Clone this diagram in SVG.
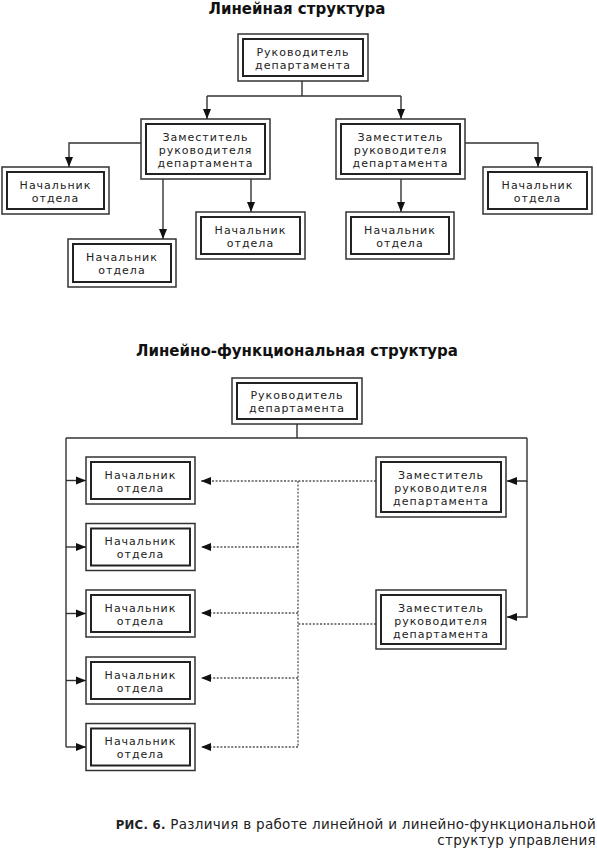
<svg xmlns="http://www.w3.org/2000/svg" width="597" height="850" viewBox="0 0 597 850">
<style>
.o{fill:#fff;stroke:#333;stroke-width:1.5}
.i{fill:#fff;stroke:#222;stroke-width:2}
.t{font-family:"DejaVu Sans","Liberation Sans",sans-serif;font-size:11px;letter-spacing:1px;fill:#222;text-anchor:middle}
.h{font-family:"DejaVu Sans","Liberation Sans",sans-serif;font-size:15px;font-weight:bold;fill:#111;text-anchor:middle}
.c{fill:none;stroke:#333;stroke-width:1.4}
.d{fill:none;stroke:#555;stroke-width:1.3;stroke-dasharray:2 1.6}
.cap{font-family:"DejaVu Sans","Liberation Sans",sans-serif;font-size:13.5px;letter-spacing:0.3px;fill:#222;text-anchor:end}
</style>
<defs>
<marker id="ar" markerUnits="userSpaceOnUse" markerWidth="10" markerHeight="10" viewBox="0 0 10 10" refX="10" refY="5" orient="auto">
<path d="M0,1 L10,5 L0,9 Z" fill="#111"/>
</marker>
</defs>
<rect width="597" height="850" fill="#fff"/>
<text class="h" x="297" y="14">Линейная структура</text>
<text class="h" x="297" y="356">Линейно-функциональная структура</text>

<g id="connectors">
<path class="c" d="M302,81 V96 M207,96 H401"/>
<path class="c" d="M207,96 V119" marker-end="url(#ar)"/>
<path class="c" d="M401,96 V119" marker-end="url(#ar)"/>
<path class="c" d="M141,143 H69 V167" marker-end="url(#ar)"/>
<path class="c" d="M163,179 V239" marker-end="url(#ar)"/>
<path class="c" d="M251,179 V212" marker-end="url(#ar)"/>
<path class="c" d="M401,179 V212" marker-end="url(#ar)"/>
<path class="c" d="M465,143 H538 V167" marker-end="url(#ar)"/>

<path class="c" d="M297,424 V438 M66,438 H527 M66,438 V747"/>
<path class="c" d="M66,480.5 H86" marker-end="url(#ar)"/>
<path class="c" d="M66,547 H86" marker-end="url(#ar)"/>
<path class="c" d="M66,613.5 H86" marker-end="url(#ar)"/>
<path class="c" d="M66,680.5 H86" marker-end="url(#ar)"/>
<path class="c" d="M66,747 H86" marker-end="url(#ar)"/>
<path class="c" d="M527,438 V481 H507" marker-end="url(#ar)"/>
<path class="c" d="M527,481 V617 H507" marker-end="url(#ar)"/>

<path class="d" d="M376,481 H201" marker-end="url(#ar)"/>
<path class="d" d="M298,481 V747"/>
<path class="d" d="M298,547 H201" marker-end="url(#ar)"/>
<path class="d" d="M298,613 H201" marker-end="url(#ar)"/>
<path class="d" d="M298,678 H201" marker-end="url(#ar)"/>
<path class="d" d="M298,747 H201" marker-end="url(#ar)"/>
<path class="d" d="M376,624 H298"/>
</g>

<g id="n-top1">
<rect class="o" x="238" y="34" width="130" height="47"/><rect class="i" x="243" y="39" width="120" height="37"/>
<text class="t" x="303" y="56">Руководитель<tspan x="303" dy="13">департамента</tspan></text>
</g>
<g id="n-dep1l">
<rect class="o" x="141" y="119" width="129" height="60"/><rect class="i" x="146" y="124" width="119" height="50"/>
<text class="t" x="205.5" y="141">Заместитель<tspan x="205.5" dy="13">руководителя</tspan><tspan x="205.5" dy="13">департамента</tspan></text>
</g>
<g id="n-dep1r">
<rect class="o" x="336" y="119" width="129" height="60"/><rect class="i" x="341" y="124" width="119" height="50"/>
<text class="t" x="400.5" y="141">Заместитель<tspan x="400.5" dy="13">руководителя</tspan><tspan x="400.5" dy="13">департамента</tspan></text>
</g>
<g id="n-h1">
<rect class="o" x="2" y="167" width="107" height="47"/><rect class="i" x="7" y="172" width="97" height="37"/>
<text class="t" x="55.5" y="188.5">Начальник<tspan x="55.5" dy="13">отдела</tspan></text>
</g>
<g id="n-h2">
<rect class="o" x="68" y="239" width="108" height="48"/><rect class="i" x="73" y="244" width="98" height="38"/>
<text class="t" x="122" y="261">Начальник<tspan x="122" dy="13">отдела</tspan></text>
</g>
<g id="n-h3">
<rect class="o" x="196" y="212" width="109" height="47"/><rect class="i" x="201" y="217" width="99" height="37"/>
<text class="t" x="250.5" y="233.5">Начальник<tspan x="250.5" dy="13">отдела</tspan></text>
</g>
<g id="n-h4">
<rect class="o" x="346" y="212" width="108" height="47"/><rect class="i" x="351" y="217" width="98" height="37"/>
<text class="t" x="400" y="233.5">Начальник<tspan x="400" dy="13">отдела</tspan></text>
</g>
<g id="n-h5">
<rect class="o" x="483" y="167" width="109" height="47"/><rect class="i" x="488" y="172" width="99" height="37"/>
<text class="t" x="537.5" y="188.5">Начальник<tspan x="537.5" dy="13">отдела</tspan></text>
</g>

<g id="n-top2">
<rect class="o" x="232" y="378" width="130" height="46"/><rect class="i" x="237" y="383" width="120" height="36"/>
<text class="t" x="297" y="399">Руководитель<tspan x="297" dy="13">департамента</tspan></text>
</g>
<g id="n-b1">
<rect class="o" x="86" y="457" width="109" height="47"/><rect class="i" x="91" y="462" width="99" height="37"/>
<text class="t" x="140.5" y="478.5">Начальник<tspan x="140.5" dy="13">отдела</tspan></text>
</g>
<g id="n-b2">
<rect class="o" x="86" y="523.5" width="109" height="47"/><rect class="i" x="91" y="528.5" width="99" height="37"/>
<text class="t" x="140.5" y="545">Начальник<tspan x="140.5" dy="13">отдела</tspan></text>
</g>
<g id="n-b3">
<rect class="o" x="86" y="590" width="109" height="47"/><rect class="i" x="91" y="595" width="99" height="37"/>
<text class="t" x="140.5" y="611.5">Начальник<tspan x="140.5" dy="13">отдела</tspan></text>
</g>
<g id="n-b4">
<rect class="o" x="86" y="657" width="109" height="47"/><rect class="i" x="91" y="662" width="99" height="37"/>
<text class="t" x="140.5" y="678.5">Начальник<tspan x="140.5" dy="13">отдела</tspan></text>
</g>
<g id="n-b5">
<rect class="o" x="86" y="723.5" width="109" height="47"/><rect class="i" x="91" y="728.5" width="99" height="37"/>
<text class="t" x="140.5" y="745">Начальник<tspan x="140.5" dy="13">отдела</tspan></text>
</g>
<g id="n-dep2a">
<rect class="o" x="376" y="457" width="130" height="60"/><rect class="i" x="381" y="462" width="120" height="50"/>
<text class="t" x="441" y="479">Заместитель<tspan x="441" dy="13">руководителя</tspan><tspan x="441" dy="13">департамента</tspan></text>
</g>
<g id="n-dep2b">
<rect class="o" x="376" y="590" width="130" height="59"/><rect class="i" x="381" y="595" width="120" height="49"/>
<text class="t" x="441" y="611.5">Заместитель<tspan x="441" dy="13">руководителя</tspan><tspan x="441" dy="13">департамента</tspan></text>
</g>

<text class="cap" x="596" y="829"><tspan font-weight="bold" font-size="11.7">РИС. 6.</tspan> Различия в работе линейной и линейно-функциональной<tspan x="596" dy="16">структур управления</tspan></text>
</svg>
